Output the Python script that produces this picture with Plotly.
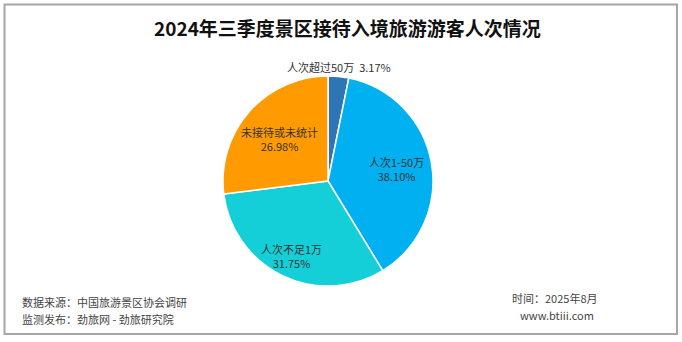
import math
import plotly.graph_objects as go

W, H = 682, 342

title = "2024年三季度景区接待入境旅游游客人次情况"
categories = ["人次超过50万", "人次1-50万", "人次不足1万", "未接待或未统计"]
shares = [3.17, 38.10, 31.75, 26.98]
colors = ["#2e75b6", "#00b0f0", "#14cfd8", "#ff9b00"]

footer_left = ["数据来源：中国旅游景区协会调研", "监测发布：劲旅网 - 劲旅研究院"]
footer_right = ["时间：2025年8月", "www.btiii.com"]

FONT = "Noto Sans CJK SC, Noto Sans, sans-serif"

# pie geometry in pixels
cx, cy, r = 328, 181, 105
# distance of each slice label from the centre, as a fraction of the radius
label_radius = [1.09, 0.66, 0.79, 0.61]

fig = go.Figure(go.Pie(
    labels=categories,
    values=shares,
    sort=False,
    direction="clockwise",
    rotation=0,
    marker=dict(colors=colors, line=dict(color="white", width=1.5)),
    textinfo="none",
    hoverinfo="label+percent",
    showlegend=False,
    domain=dict(x=[(cx - r) / W, (cx + r) / W],
                y=[(H - cy - r) / H, (H - cy + r) / H]),
))


def px_x(x):
    return x / W


def px_y(y):
    return 1 - y / H


annotations = [
    dict(text=f"<b>{title}</b>", x=px_x(347), y=px_y(27), xanchor="center", yanchor="middle",
         showarrow=False, font=dict(family=FONT, size=19, color="#111111")),
]

# slice labels placed along each slice's mid-angle (clockwise from 12 o'clock)
total = sum(shares)
start = 0.0
for i, (name, v) in enumerate(zip(categories, shares)):
    mid = (start + v / 2) / total * 2 * math.pi
    start += v
    lx = cx + label_radius[i] * r * math.sin(mid)
    ly = cy - label_radius[i] * r * math.cos(mid)
    text = f"{name}  {v:.2f}%" if i == 0 else f"{name}<br>{v:.2f}%"
    annotations.append(dict(
        text=text, x=px_x(lx), y=px_y(ly), xanchor="center", yanchor="middle",
        showarrow=False, align="center",
        font=dict(family=FONT, size=11, color="#333333"),
    ))

annotations += [
    dict(text=footer_left[0], x=px_x(20), y=px_y(302), xanchor="left", yanchor="middle",
         showarrow=False, font=dict(family=FONT, size=11, color="#444444")),
    dict(text=footer_left[1], x=px_x(20), y=px_y(319), xanchor="left", yanchor="middle",
         showarrow=False, font=dict(family=FONT, size=11, color="#444444")),
    dict(text=footer_right[0], x=px_x(510), y=px_y(298), xanchor="left", yanchor="middle",
         showarrow=False, font=dict(family=FONT, size=11, color="#444444")),
    dict(text=footer_right[1], x=px_x(596), y=px_y(315), xanchor="right", yanchor="middle",
         showarrow=False, font=dict(family=FONT, size=11, color="#444444")),
]

fig.update_layout(
    width=W, height=H,
    margin=dict(l=0, r=0, t=0, b=0),
    paper_bgcolor="white",
    plot_bgcolor="white",
    annotations=annotations,
    shapes=[dict(type="rect", xref="paper", yref="paper",
                 x0=px_x(4.5), x1=px_x(677), y0=px_y(334), y1=px_y(4.5),
                 line=dict(color="#a6a6a6", width=2))],
)

fig.write_html("out.html")
